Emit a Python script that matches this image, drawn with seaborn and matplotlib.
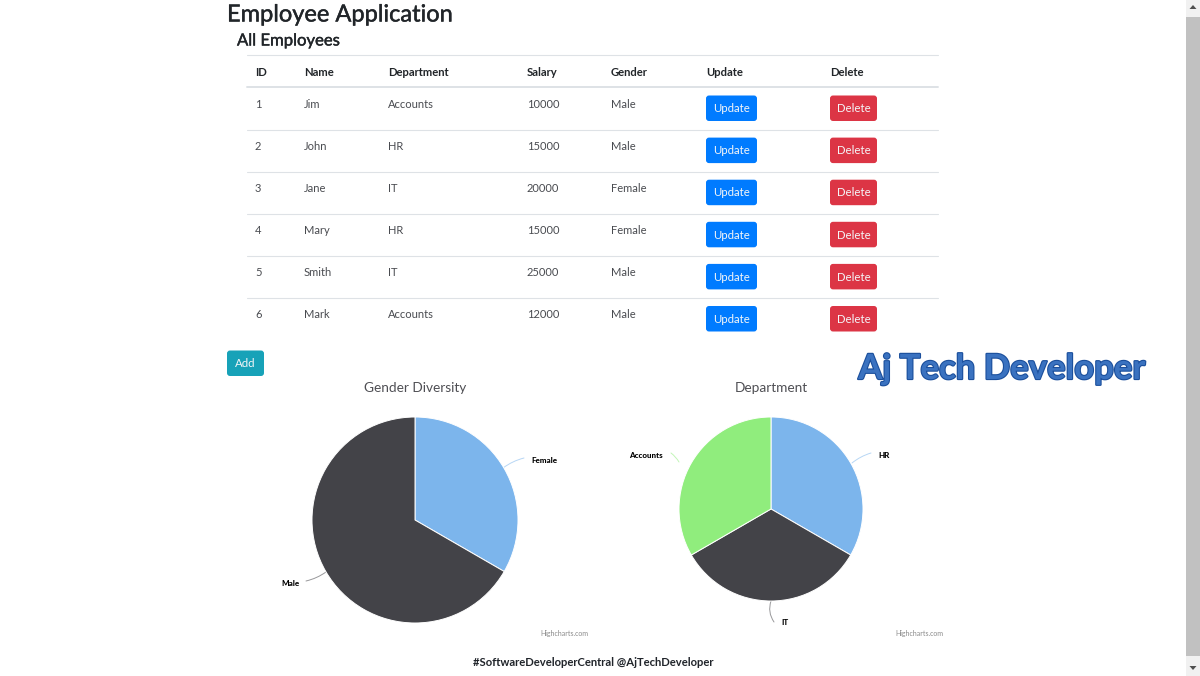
import matplotlib
matplotlib.use("Agg")
import matplotlib.pyplot as plt
import matplotlib.patheffects as pe
from matplotlib.patches import FancyBboxPatch, Rectangle, Polygon
import pandas as pd
import seaborn as sns

# Table data
ids = [1, 2, 3, 4, 5, 6]
names = ["Jim", "John", "Jane", "Mary", "Smith", "Mark"]
departments = ["Accounts", "HR", "IT", "HR", "IT", "Accounts"]
salaries = [10000, 15000, 20000, 15000, 25000, 12000]
genders = ["Male", "Male", "Female", "Female", "Male", "Male"]
columns = ["ID", "Name", "Department", "Salary", "Gender", "Update", "Delete"]

# Pie data
gender_labels = ["Female", "Male"]
gender_counts = [2, 4]
dept_labels = ["HR", "IT", "Accounts"]
dept_counts = [2, 2, 2]

sns.set_theme(style="white")
plt.rcParams["font.family"] = ["Lato", "DejaVu Sans"]

W, H = 1200, 676
fig = plt.figure(figsize=(W / 100, H / 100), dpi=100, facecolor="white")

# page layer in pixel coordinates
page = fig.add_axes([0, 0, 1, 1])
page.set_xlim(0, W)
page.set_ylim(H, 0)
page.axis("off")

df = pd.DataFrame({"ID": ids, "Name": names, "Department": departments,
                   "Salary": salaries, "Gender": genders})

col_x = [255, 304, 388, 527, 611, 706, 830]
dark = "#212529"
cell = "#494b50"


def button(x, y, w, h, color, label, size=8.2):
    page.add_patch(FancyBboxPatch((x + 2, y + 2), w - 4, h - 4,
                                  boxstyle="round,pad=2,rounding_size=3",
                                  fc=color, ec="none"))
    page.text(x + w / 2, y + h / 2 + 0.5, label, color="#f4f6f8", fontsize=size,
              ha="center", va="center")


page.text(227, 15, "Employee Application", fontsize=17, color=dark, va="center",
          path_effects=[pe.withStroke(linewidth=0.3, foreground=dark)])
page.text(237, 40.5, "All Employees", fontsize=12, color=dark, va="center",
          path_effects=[pe.withStroke(linewidth=0.3, foreground=dark)])

# table
page.plot([247, 938], [54.5, 54.5], color="#dee2e6", lw=0.8)
page.plot([247, 938], [87, 87], color="#dee2e6", lw=1.4)
for x, c in zip(col_x, columns):
    page.text(x, 72, c, fontsize=8.1, fontweight="bold", color=dark, va="center")

for i, row in df.iterrows():
    y = 104.5 + 42.1 * i
    page.text(col_x[0], y, str(row["ID"]), fontsize=8, color=cell, va="center")
    page.text(col_x[1], y, row["Name"], fontsize=8, color=cell, va="center")
    page.text(col_x[2], y, row["Department"], fontsize=8, color=cell, va="center")
    page.text(col_x[3], y, str(row["Salary"]), fontsize=8, color=cell, va="center")
    page.text(col_x[4], y, row["Gender"], fontsize=8, color=cell, va="center")
    button(706, y - 9, 51, 25.5, "#007bff", "Update")
    button(830, y - 9, 47, 25.5, "#dc3545", "Delete")
    if i < 5:
        page.plot([247, 938], [y + 25, y + 25], color="#dee2e6", lw=0.8)

button(227, 350.5, 37, 25.5, "#17a2b8", "Add")


def draw_pie(cx, cy, r, values, colors):
    ax = fig.add_axes([(cx - r) / W, 1 - (cy + r) / H, 2 * r / W, 2 * r / H])
    ax.pie(values, colors=colors, startangle=90, counterclock=False, radius=1,
           wedgeprops={"edgecolor": "white", "linewidth": 0.7})
    ax.set_xlim(-1, 1)
    ax.set_ylim(-1, 1)
    ax.set_aspect("equal")
    ax.axis("off")
    ax.patch.set_alpha(0)


blue = "#7cb5ec"
charcoal = "#434348"
green = "#90ed7d"
draw_pie(415, 520, 103, gender_counts, sns.color_palette([blue, charcoal]))
draw_pie(771, 509, 92, dept_counts, sns.color_palette([blue, charcoal, green]))

page.text(415.5, 387.5, "Gender Diversity", fontsize=9.8, color="#4f4f54", ha="center", va="center")
page.text(771, 387.5, "Department", fontsize=9.8, color="#4f4f54", ha="center", va="center")


def pie_label(text, tx, ty, start, end, color, rad, ha):
    page.annotate("", xy=end, xytext=start,
                  arrowprops={"arrowstyle": "-", "color": color, "lw": 0.7, "alpha": 0.55,
                              "connectionstyle": f"arc3,rad={rad}",
                              "shrinkA": 0, "shrinkB": 0})
    page.text(tx, ty, text, fontsize=5.8, fontweight="black", color="black",
              ha=ha, va="center")


pie_label(gender_labels[0], 531, 460.5, (503, 468), (524, 458), blue, -0.1, "left")
pie_label(gender_labels[1], 300, 583, (326, 572), (306, 581), charcoal, -0.1, "right")
pie_label(dept_labels[0], 878, 455, (852, 463), (871, 453), blue, -0.1, "left")
pie_label(dept_labels[1], 781, 622.5, (771, 601), (774, 622), charcoal, 0.25, "left")
pie_label(dept_labels[2], 663, 455, (679, 462), (671, 453), green, 0.1, "right")

page.text(564, 633.5, "Highcharts.com", fontsize=5, color="#8a8a8a", ha="center", va="center")
page.text(919.5, 633.5, "Highcharts.com", fontsize=5, color="#8a8a8a", ha="center", va="center")

page.text(593.5, 662, "#SoftwareDeveloperCentral @AjTechDeveloper", fontsize=8.1, fontweight="bold",
          color="#20242a", ha="center", va="center")

# watermark
page.text(1002, 369, "Aj Tech Developer", fontsize=25, fontweight="bold", color="#3a72c0",
          ha="center", va="center",
          path_effects=[pe.withStroke(linewidth=1.6, foreground="#1b4f9c")])

# scrollbar
page.add_patch(Rectangle((1186, 0), 14, H, fc="#f1f1f1", ec="none"))
page.add_patch(Rectangle((1186, 17), 14, 639, fc="#c1c1c1", ec="none"))
page.add_patch(Polygon([[1193, 5], [1189.5, 9], [1196.5, 9]], fc="#505050", ec="none"))
page.add_patch(Polygon([[1193, 670], [1189.5, 666], [1196.5, 666]], fc="#505050", ec="none"))

fig.savefig("out.png", dpi=100)
